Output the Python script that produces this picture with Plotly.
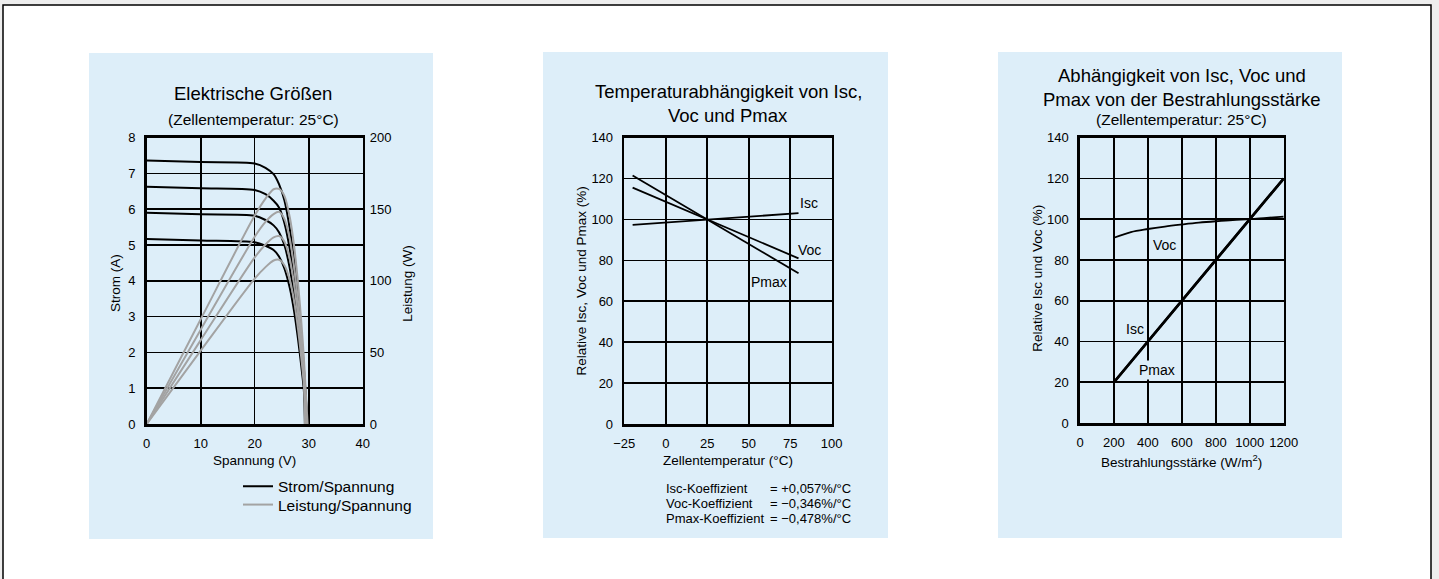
import plotly.graph_objects as go

W, H = 1439, 579


def px(x):
    return x / W


def py(y):
    return 1 - y / H


FONT = "Liberation Sans, Arial, Helvetica, sans-serif"
BLUE = "#ddeef9"

# ---------------- Panel 1: Elektrische Größen ----------------
spannung_stuetz = [0, 10, 20, 22, 23.5, 24.5, 25.5, 26.5, 27.3, 28.0, 28.6, 29.1]
leerlauf_spannung = [29.8, 29.6, 29.5, 29.3]

strom_1 = [7.36, 7.32, 7.28, 7.16, 6.98, 6.70, 6.25, 5.45, 4.55, 3.55, 2.55, 1.60, 0]
strom_2 = [6.63, 6.59, 6.54, 6.42, 6.24, 6.05, 5.62, 4.88, 4.02, 3.08, 2.15, 1.30, 0]
strom_3 = [5.90, 5.86, 5.82, 5.70, 5.55, 5.36, 5.00, 4.35, 3.58, 2.72, 1.90, 1.12, 0]
strom_4 = [5.17, 5.13, 5.08, 4.98, 4.86, 4.68, 4.35, 3.80, 3.15, 2.40, 1.65, 0.95, 0]

leistung_1 = [0, 73.2, 145.6, 157.5, 164.0, 164.2, 159.4, 144.4, 124.2, 99.4, 72.9, 46.6, 0]
leistung_2 = [0, 65.9, 130.8, 141.2, 146.6, 148.2, 143.3, 129.3, 109.7, 86.2, 61.5, 37.8, 0]
leistung_3 = [0, 58.6, 116.4, 125.4, 130.4, 131.3, 127.5, 115.3, 97.7, 76.2, 54.3, 32.6, 0]
leistung_4 = [0, 51.3, 101.6, 109.6, 114.2, 114.7, 110.9, 100.7, 86.0, 67.2, 47.2, 27.6, 0]

# ---------------- Panel 2: Temperaturabhängigkeit ----------------
temperatur = [-20, 25, 80]
isc_temp = [97.4, 100, 103.1]
voc_temp = [115.6, 100, 81.0]
pmax_temp = [121.5, 100, 73.7]
koeff_namen = ["Isc-Koeffizient", "Voc-Koeffizient", "Pmax-Koeffizient"]
koeff_werte = ["= +0,057%/°C", "= −0,346%/°C", "= −0,478%/°C"]

# ---------------- Panel 3: Bestrahlungsstärke ----------------
bestrahlung_voc = [200, 300, 400, 500, 600, 700, 800, 900, 1000, 1100, 1200]
voc_bestr = [90.9, 93.7, 95.2, 96.4, 97.4, 98.3, 99.0, 99.6, 100, 100.7, 101.3]
bestrahlung_isc = [200, 1200]
isc_bestr = [20, 120]
pmax_bestr = [20, 120]

fig = go.Figure()

strom_listen = [strom_1, strom_2, strom_3, strom_4]
leistung_listen = [leistung_1, leistung_2, leistung_3, leistung_4]

for i, (s, voc) in enumerate(zip(strom_listen, leerlauf_spannung)):
    v = spannung_stuetz + [voc]
    fig.add_trace(go.Scatter(
        x=v, y=s, mode="lines", xaxis="x", yaxis="y",
        line=dict(color="black", width=2, shape="spline", smoothing=0.8),
        name="Strom/Spannung", legend="legend", showlegend=(i == 0),
        hoverinfo="skip"))

for i, (p, voc) in enumerate(zip(leistung_listen, leerlauf_spannung)):
    v = spannung_stuetz + [voc]
    fig.add_trace(go.Scatter(
        x=v, y=p, mode="lines", xaxis="x", yaxis="y2",
        line=dict(color="#a3a3a3", width=2, shape="spline", smoothing=0.8),
        name="Leistung/Spannung", legend="legend2", showlegend=(i == 0),
        hoverinfo="skip"))

for vals in (isc_temp, voc_temp, pmax_temp):
    fig.add_trace(go.Scatter(
        x=temperatur, y=vals, mode="lines", xaxis="x2", yaxis="y3",
        line=dict(color="black", width=1.8), showlegend=False, hoverinfo="skip"))

fig.add_trace(go.Scatter(
    x=bestrahlung_voc, y=voc_bestr, mode="lines", xaxis="x3", yaxis="y4",
    line=dict(color="black", width=1.8, shape="spline"), showlegend=False, hoverinfo="skip"))
for vals in (isc_bestr, pmax_bestr):
    fig.add_trace(go.Scatter(
        x=bestrahlung_isc, y=vals, mode="lines", xaxis="x3", yaxis="y4",
        line=dict(color="black", width=2.6), showlegend=False, hoverinfo="skip"))

common = dict(
    showgrid=True, gridcolor="black", gridwidth=1.6,
    showline=True, linecolor="black", linewidth=2.6, mirror=True,
    ticks="", zeroline=False, tickfont=dict(size=13, color="black", family=FONT),
    fixedrange=True, automargin=False,
)

plot_y = [py(424), py(137.7)]

legend_style = dict(xanchor="left", yanchor="middle", bgcolor="rgba(0,0,0,0)",
                    font=dict(size=15.5, family=FONT, color="black"), itemwidth=30)

fig.update_layout(
    width=W, height=H,
    margin=dict(l=0, r=0, t=0, b=0, pad=0, autoexpand=False),
    paper_bgcolor="#eeeeee",
    plot_bgcolor="rgba(0,0,0,0)",
    font=dict(family=FONT, color="black"),
    xaxis=dict(domain=[px(146.7), px(362.7)], range=[0, 40], dtick=10, anchor="y",
               ticklabelstandoff=6, **common),
    yaxis=dict(domain=plot_y, range=[0, 8], dtick=1, anchor="x",
               ticklabelstandoff=6, **common),
    yaxis2=dict(range=[0, 200], dtick=50, overlaying="y", side="right", anchor="x",
                showgrid=False, showline=False, ticks="", zeroline=False,
                tickfont=dict(size=13, color="black", family=FONT),
                ticklabelstandoff=6, fixedrange=True, automargin=False),
    xaxis2=dict(domain=[px(624.3), px(831.7)], range=[-25, 100], dtick=25, anchor="y3",
                ticklabelstandoff=6, **common),
    yaxis3=dict(domain=plot_y, range=[0, 140], dtick=20, anchor="x2",
                ticklabelstandoff=6, **common),
    xaxis3=dict(domain=[px(1080), px(1283.7)], range=[0, 1200], dtick=200, anchor="y4",
                ticklabelstandoff=6, **common),
    yaxis4=dict(domain=[py(423), py(137.7)], range=[0, 140], dtick=20, anchor="x3",
                ticklabelstandoff=6, **common),
    legend=dict(x=px(238), y=py(486.7), **legend_style),
    legend2=dict(x=px(238), y=py(505), **legend_style),
    hovermode=False,
)

shapes = [
    dict(type="rect", xref="paper", yref="paper", x0=px(3), x1=px(1431), y0=-0.1, y1=py(5),
         line=dict(color="black", width=1.5), fillcolor="white", layer="below"),
    dict(type="rect", xref="paper", yref="paper", x0=px(89), x1=px(433), y0=py(539), y1=py(53),
         line=dict(width=0), fillcolor=BLUE, layer="below"),
    dict(type="rect", xref="paper", yref="paper", x0=px(543), x1=px(888), y0=py(538), y1=py(52),
         line=dict(width=0), fillcolor=BLUE, layer="below"),
    dict(type="rect", xref="paper", yref="paper", x0=px(998), x1=px(1342), y0=py(538), y1=py(52),
         line=dict(width=0), fillcolor=BLUE, layer="below"),
]
fig.update_layout(shapes=shapes)


def ann(text, x, y, size, xanchor="center", angle=0, bg=None):
    d = dict(text=text, x=px(x), y=py(y), xref="paper", yref="paper",
             showarrow=False, xanchor=xanchor, yanchor="middle",
             font=dict(size=size, family=FONT, color="black"), textangle=angle)
    if bg:
        d["bgcolor"] = bg
    return d


annotations = [
    # Panel 1
    ann("Elektrische Größen", 253, 94, 18.5),
    ann("(Zellentemperatur: 25°C)", 253, 119, 15.5),
    ann("Spannung (V)", 254.7, 460.7, 13.5),
    ann("Strom (A)", 115, 283, 13.5, angle=-90),
    ann("Leistung (W)", 406.7, 283, 13.5, angle=-90),
    # Panel 2
    ann("Temperaturabhängigkeit von Isc,", 728, 91.7, 18.5),
    ann("Voc und Pmax", 728, 115, 18.5),
    ann("Zellentemperatur (°C)", 728, 460.7, 13.5),
    ann("Relative Isc, Voc und Pmax (%)", 581.7, 280.7, 13.5, angle=-90),
    ann("Isc", 809.3, 203.3, 14),
    ann("Voc", 810, 250, 14),
    ann("Pmax", 769.3, 281.7, 14),
    # Panel 3
    ann("Abhängigkeit von Isc, Voc und", 1181.8, 75, 18.5),
    ann("Pmax von der Bestrahlungsstärke", 1181.8, 99.3, 18.5),
    ann("(Zellentemperatur: 25°C)", 1181.8, 119, 15.5),
    ann("Bestrahlungsstärke (W/m<sup>2</sup>)", 1181.8, 460.7, 13.5),
    ann("Relative Isc und Voc (%)", 1036.7, 278, 13.5, angle=-90),
    ann("Voc", 1164, 245, 14),
    ann("Isc", 1135, 329.3, 14),
    ann("Pmax", 1156.7, 370, 14, bg=BLUE),
]

zeilen_y = [488.3, 503.3, 518.3]
for name, wert, yy in zip(koeff_namen, koeff_werte, zeilen_y):
    annotations.append(ann(name, 664, yy, 13, xanchor="left"))
    annotations.append(ann(wert, 768, yy, 13, xanchor="left"))

fig.update_layout(annotations=annotations)

fig.write_html(
    "out.html",
    config={"displayModeBar": False, "staticPlot": True},
    post_script="document.body.style.margin='0';document.body.style.overflow='hidden';",
)
